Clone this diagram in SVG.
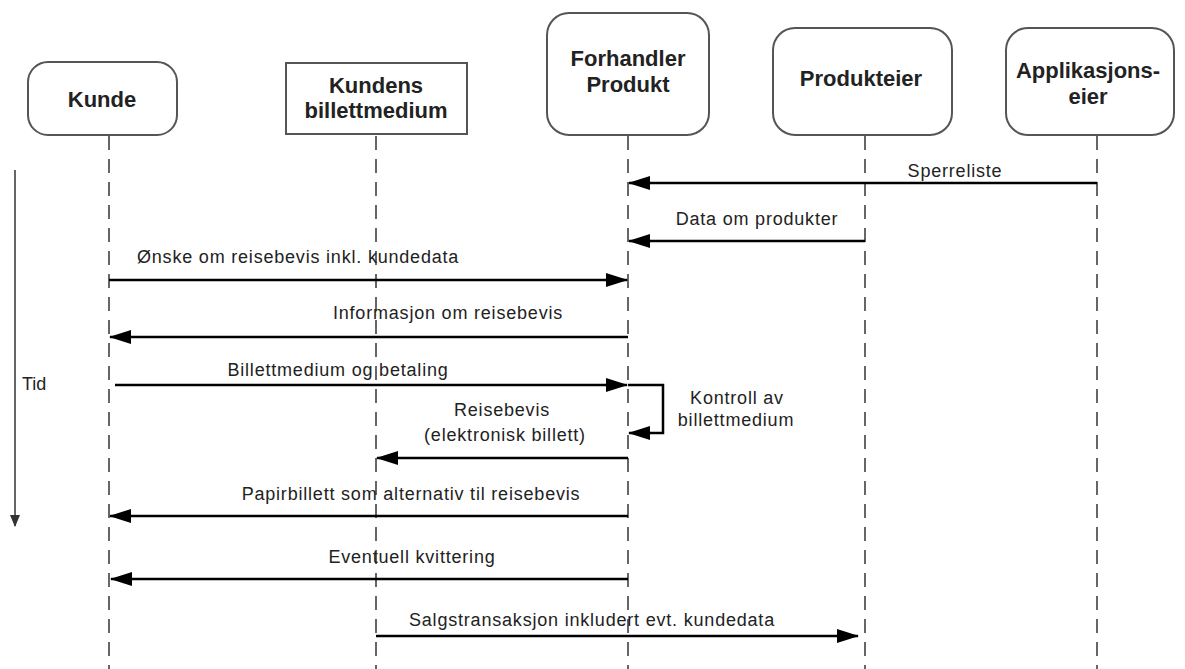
<svg xmlns="http://www.w3.org/2000/svg" width="1185" height="669" viewBox="0 0 1185 669">
<defs>
<marker id="ah" markerWidth="22" markerHeight="14" refX="21" refY="7" orient="auto" markerUnits="userSpaceOnUse">
<path d="M0,0 L22,7 L0,14 Z" fill="#000"/>
</marker>
<marker id="ahs" markerWidth="12" markerHeight="10" refX="11" refY="5" orient="auto" markerUnits="userSpaceOnUse">
<path d="M0,0 L12,5 L0,10 Z" fill="#333"/>
</marker>
<style>
.box{fill:#fff;stroke:#555;stroke-width:2}
.title{font-family:"Liberation Sans",Arial,sans-serif;font-weight:bold;font-size:22px;fill:#222;text-anchor:middle}
.life{stroke:#666;stroke-width:2;stroke-dasharray:14 9;fill:none}
.msg{stroke:#000;stroke-width:2.5;fill:none;marker-end:url(#ah)}
.lbl{font-family:"Liberation Sans",Arial,sans-serif;font-size:18px;letter-spacing:0.8px;fill:#222;text-anchor:middle}
</style>
</defs>
<rect width="1185" height="669" fill="#fff"/>
<g id="lifelines">
<line class="life" x1="109" y1="136" x2="109" y2="669"/>
<line class="life" x1="376" y1="136" x2="376" y2="669"/>
<line class="life" x1="628" y1="136" x2="628" y2="669"/>
<line class="life" x1="865" y1="136" x2="865" y2="669"/>
<line class="life" x1="1097" y1="136" x2="1097" y2="669"/>
</g>
<g id="kunde">
<rect class="box" x="28" y="62" width="149" height="73" rx="20"/>
<text class="title" x="102" y="107">Kunde</text>
</g>
<g id="billettmedium">
<rect class="box" x="286" y="63" width="181" height="71"/>
<text class="title" x="376" y="93">Kundens</text>
<text class="title" x="376" y="118">billettmedium</text>
</g>
<g id="forhandler">
<rect class="box" x="547" y="13" width="162" height="122" rx="22"/>
<text class="title" x="628" y="66">Forhandler</text>
<text class="title" x="628" y="92">Produkt</text>
</g>
<g id="produkteier">
<rect class="box" x="773" y="28" width="179" height="107" rx="22"/>
<text class="title" x="861" y="86">Produkteier</text>
</g>
<g id="applikasjonseier">
<rect class="box" x="1006" y="28" width="168" height="107" rx="22"/>
<text class="title" x="1088" y="78">Applikasjons-</text>
<text class="title" x="1088" y="104">eier</text>
</g>
<g id="tid">
<line x1="15" y1="170" x2="15" y2="526" stroke="#333" stroke-width="1.5" marker-end="url(#ahs)"/>
<text class="lbl" x="22" y="390" style="text-anchor:start;letter-spacing:0">Tid</text>
</g>
<g id="connectors">
<line class="msg" x1="1097" y1="183" x2="629" y2="183"/>
<text class="lbl" x="955" y="177">Sperreliste</text>
<line class="msg" x1="865" y1="241" x2="629" y2="241"/>
<text class="lbl" x="757" y="225">Data om produkter</text>
<line class="msg" x1="109" y1="280" x2="627" y2="280"/>
<text class="lbl" x="137" y="263" style="text-anchor:start">Ønske om reisebevis inkl. kundedata</text>
<line class="msg" x1="628" y1="337" x2="110" y2="337"/>
<text class="lbl" x="448" y="319">Informasjon om reisebevis</text>
<line class="msg" x1="115" y1="385" x2="627" y2="385"/>
<text class="lbl" x="338" y="376">Billettmedium og betaling</text>
<polyline class="msg" points="628,385 663,385 663,433 629,433"/>
<text class="lbl" x="737" y="404">Kontroll av</text>
<text class="lbl" x="736" y="426">billettmedium</text>
<line class="msg" x1="628" y1="458" x2="377" y2="458"/>
<text class="lbl" x="502" y="416">Reisebevis</text>
<text class="lbl" x="505" y="441">(elektronisk billett)</text>
<line class="msg" x1="628" y1="516" x2="110" y2="516"/>
<text class="lbl" x="411" y="500">Papirbillett som alternativ til reisebevis</text>
<line class="msg" x1="628" y1="579" x2="111" y2="579"/>
<text class="lbl" x="412" y="563">Eventuell kvittering</text>
<line class="msg" x1="376" y1="636" x2="858" y2="636"/>
<text class="lbl" x="592" y="626">Salgstransaksjon inkludert evt. kundedata</text>
</g>
</svg>
